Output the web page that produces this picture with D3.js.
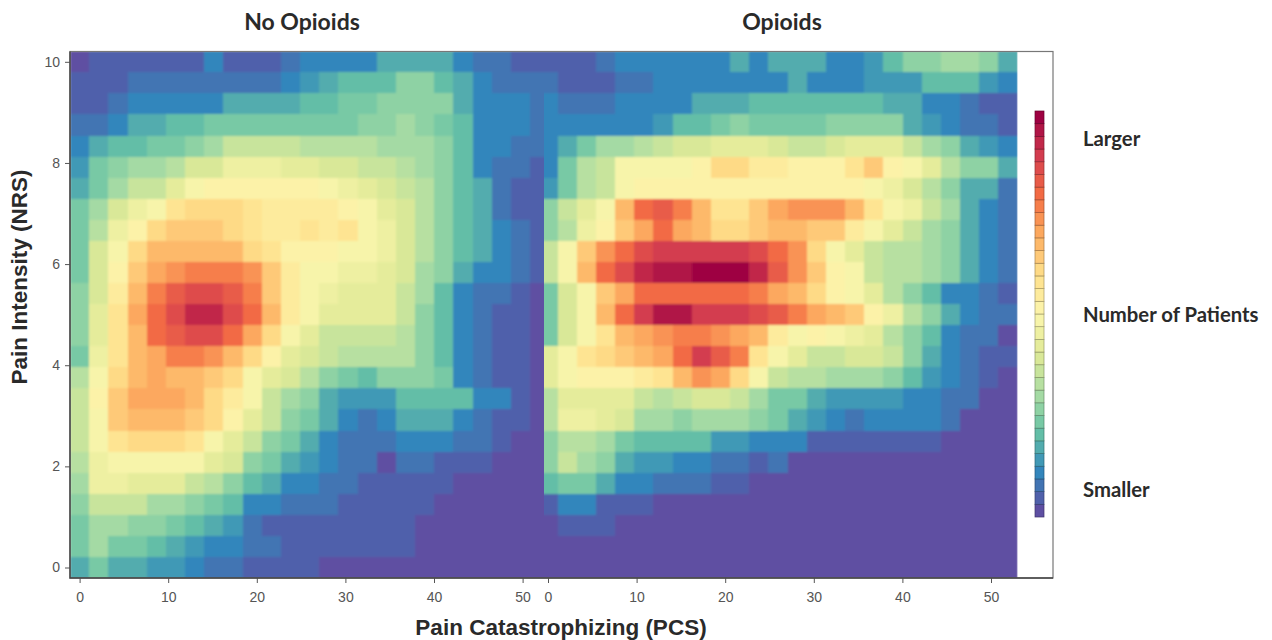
<!DOCTYPE html>
<html>
<head>
<meta charset="utf-8">
<script src="https://cdn.jsdelivr.net/npm/d3@7"></script>
<style>
  html, body { margin: 0; padding: 0; background: #fff; }
  svg { display: block; }
  .tick text { font-family: "Liberation Sans", Arial, sans-serif; font-size: 14px; fill: #555; }
  .tick line { stroke: #555; }
  .domain { display: none; }
  .axis-title { font-family: "Liberation Sans", Arial, sans-serif; font-weight: bold; font-size: 22.5px; fill: #2a2a2a; }
  .panel-title { font-family: Lato, "Open Sans", sans-serif; font-weight: bold; font-size: 23px; fill: #2a2a2a; }
  .legend-label { font-family: Lato, "Open Sans", sans-serif; font-weight: bold; font-size: 20.3px; fill: #2a2a2a; }
</style>
</head>
<body>
<svg width="1272" height="640"></svg>
<script>
// colour level of each cell (0 = smallest, 31 = largest), rows from NRS 10 down to NRS 0
const noOpioids = [
  [0,1,1,1,1,1,1,3,1,1,1,2,3,3,3,3,5,5,5,5,3,2,2,1,1],
  [1,1,1,2,2,2,2,2,2,2,2,3,4,5,6,6,6,8,8,6,5,3,2,2,2],
  [1,1,2,3,3,3,3,3,5,5,5,5,6,6,7,7,8,8,8,8,5,3,3,3,2],
  [2,2,3,5,5,6,6,7,7,7,7,7,7,7,7,8,8,9,8,7,6,3,3,3,2],
  [3,5,6,6,7,7,8,9,11,11,11,11,10,10,10,10,9,9,9,8,6,3,3,2,2],
  [4,7,8,9,9,10,12,12,14,14,14,13,13,12,12,11,11,10,9,8,6,3,2,2,1],
  [5,7,9,11,11,13,15,16,16,16,16,16,16,15,14,13,12,11,10,8,6,5,2,1,1],
  [7,9,12,14,15,18,19,19,19,18,17,17,17,17,16,15,13,12,10,8,6,5,2,1,1],
  [7,10,14,16,19,20,20,20,19,18,17,17,18,17,18,15,14,12,10,8,6,5,3,2,1],
  [7,12,15,19,21,21,21,21,21,19,18,16,16,16,15,15,14,12,10,8,6,5,3,2,1],
  [7,12,16,20,22,23,24,24,24,23,20,17,15,15,14,14,13,12,9,8,5,3,3,2,1],
  [8,12,17,21,24,26,27,27,26,24,20,17,15,14,13,13,13,11,9,6,3,2,2,1,0],
  [8,13,18,22,25,27,29,29,27,25,21,17,15,13,13,13,13,11,8,6,3,2,1,1,0],
  [8,13,18,21,25,26,27,27,25,22,19,15,13,11,11,11,11,10,8,6,3,2,1,1,0],
  [7,14,18,21,22,24,24,23,21,19,16,13,12,11,10,10,10,10,8,6,3,2,1,1,0],
  [10,15,19,21,22,21,21,20,19,15,13,12,10,8,7,6,8,8,8,7,3,2,1,1,0],
  [11,16,20,22,22,22,21,19,17,15,11,9,8,5,4,4,4,6,6,6,6,3,3,1,0],
  [11,15,20,21,21,21,20,19,16,13,11,8,7,5,3,2,3,5,5,5,3,2,1,1,0],
  [11,15,18,19,19,19,18,15,13,11,8,7,5,3,2,2,2,3,3,3,2,2,1,0,0],
  [10,14,15,15,15,15,15,13,12,8,7,5,4,3,2,2,0,2,2,1,1,1,0,0,0],
  [9,14,14,13,13,13,11,10,8,6,5,3,3,2,2,1,1,1,1,1,0,0,0,0,0],
  [8,11,11,11,9,9,8,7,6,3,3,2,2,2,1,1,1,1,1,0,0,0,0,0,0],
  [7,9,9,8,8,7,6,5,4,2,1,1,1,1,1,1,1,1,0,0,0,0,0,0,0],
  [7,9,7,7,6,5,4,3,3,2,2,1,1,1,1,1,1,1,0,0,0,0,0,0,0],
  [5,7,5,5,4,4,3,2,2,1,1,1,1,0,0,0,0,0,0,0,0,0,0,0,0]
];
const opioids = [
  [1,1,1,2,3,3,3,3,3,3,5,3,5,5,5,3,3,4,6,8,8,9,9,8,5],
  [2,1,1,1,2,2,3,3,3,3,3,3,3,5,3,3,3,4,4,4,6,6,6,4,3],
  [3,2,2,2,3,3,3,3,5,5,5,6,6,6,6,6,6,6,5,5,3,3,2,1,1],
  [3,3,3,3,3,3,4,6,6,7,8,7,7,7,7,8,8,8,8,5,4,3,2,2,1],
  [3,5,7,9,9,10,11,12,12,13,13,13,12,11,11,12,13,13,13,11,9,8,5,4,3],
  [3,7,10,11,15,15,15,15,16,19,19,17,17,16,16,16,18,20,16,15,13,10,8,8,5],
  [4,7,10,11,15,16,16,16,16,16,16,16,16,16,16,16,16,15,14,12,10,8,5,5,2],
  [8,11,13,15,21,25,26,24,21,18,18,20,22,23,23,23,21,18,15,14,11,9,5,3,2],
  [8,10,14,16,20,22,25,22,21,19,19,20,21,21,20,20,17,15,13,11,9,8,5,3,2],
  [11,15,20,23,25,27,28,28,28,28,28,27,25,23,19,15,13,11,10,10,9,8,5,3,2],
  [11,15,21,25,27,29,30,30,31,31,31,29,26,23,20,16,15,11,10,10,9,8,5,3,2],
  [7,12,15,20,22,25,25,25,25,25,25,24,22,21,19,16,15,13,10,8,6,3,3,2,1],
  [7,12,15,21,25,28,30,30,28,28,28,27,26,24,22,21,20,16,14,10,8,5,3,2,2],
  [7,12,15,18,21,22,23,24,24,23,22,21,17,15,16,15,14,13,10,8,6,3,2,2,0],
  [13,15,18,19,20,21,22,25,28,26,24,18,15,13,11,11,12,12,11,8,5,3,2,1,1],
  [13,15,16,16,16,17,18,21,23,22,19,15,11,10,10,9,9,9,8,6,4,3,2,1,0],
  [10,13,13,13,13,11,10,11,12,12,11,9,7,7,5,4,4,4,4,3,3,2,2,0,0],
  [10,14,14,13,12,9,9,8,9,9,9,8,7,5,4,3,2,3,3,3,3,2,0,0,0],
  [8,10,10,9,7,6,6,6,6,4,4,3,3,3,1,1,1,1,1,1,1,0,0,0,0],
  [8,11,9,8,5,4,4,3,3,2,2,1,2,0,0,0,0,0,0,0,0,0,0,0,0],
  [6,7,7,5,3,3,2,2,2,1,1,0,0,0,0,0,0,0,0,0,0,0,0,0,0],
  [1,3,3,1,1,1,0,0,0,0,0,0,0,0,0,0,0,0,0,0,0,0,0,0,0],
  [0,1,1,1,0,0,0,0,0,0,0,0,0,0,0,0,0,0,0,0,0,0,0,0,0],
  [0,0,0,0,0,0,0,0,0,0,0,0,0,0,0,0,0,0,0,0,0,0,0,0,0],
  [0,0,0,0,0,0,0,0,0,0,0,0,0,0,0,0,0,0,0,0,0,0,0,0,0]
];
const pcsTicks = [0, 10, 20, 30, 40, 50];
const nrsTicks = [0, 2, 4, 6, 8, 10];
const panelTitles = ["No Opioids", "Opioids"];
const legendLabels = ["Larger", "Number of Patients", "Smaller"];
const levels = d3.range(32);
// spectral map, lime and yellow a bit duller as they come out in the picture
const spectralStops = ["#5e4fa2", "#3288bd", "#66c2a5", "#abdda4", "#e0ea96", "#fcf6ae", "#fee08b", "#fdae61", "#f46d43", "#d53e4f", "#9e0142"];

const PCS_STEP = 53 / 24.5;   // width of one PCS bin
const NRS_STEP = 10 / 24;     // height of one NRS bin

let svg = d3.select("svg");

let color = d3.scaleSequential(d3.piecewise(d3.interpolateRgb, spectralStops)).domain([0, 31]);
let y = d3.scaleLinear().domain([0, 10]).range([567.5, 61.8]);

// same pcs axis twice, each panel has its own offset and both meet at x=544
let panels = [
  { name: "no-opioids", data: noOpioids, x: d3.scaleLinear().domain([0, 50]).range([79.6, 522.6]), clip: [70, 544], titleX: 302 },
  { name: "opioids", data: opioids, x: d3.scaleLinear().domain([0, 50]).range([548, 991]), clip: [544, 1017.5], titleX: 782 }
];

let defs = svg.append("defs");
defs.append("filter").attr("id", "soft")
  .attr("x", 0).attr("y", 0).attr("width", 1).attr("height", 1)
  .append("feGaussianBlur").attr("stdDeviation", 0.9);

let frame = { left: 70, right: 1053, top: 51.5, bottom: 578 };

panels.forEach(function(p, pi) {
  defs.append("clipPath").attr("id", "clip-" + p.name)
    .append("rect")
    .attr("x", p.clip[0]).attr("y", frame.top)
    .attr("width", p.clip[1] - p.clip[0]).attr("height", frame.bottom - frame.top);

  let cellW = p.x(PCS_STEP) - p.x(0);
  let cellH = y(0) - y(NRS_STEP);

  let cells = [];
  p.data.forEach(function(row, r) {
    row.forEach(function(v, c) {
      cells.push({ pcs: c * PCS_STEP, nrs: (24 - r) * NRS_STEP, v: v });
    });
  });

  svg.append("g")
    .attr("clip-path", "url(#clip-" + p.name + ")")
    .append("g")
    .attr("filter", "url(#soft)")
    .selectAll("rect")
    .data(cells)
    .enter()
    .append("rect")
    .attr("x", d => p.x(d.pcs) - cellW / 2)
    .attr("y", d => y(d.nrs) - cellH / 2)
    .attr("width", cellW + 0.5)
    .attr("height", cellH + 0.5)
    .attr("shape-rendering", "crispEdges")
    .attr("fill", d => color(d.v));

  svg.append("g")
    .attr("transform", "translate(0," + frame.bottom + ")")
    .call(d3.axisBottom(p.x).tickValues(pcsTicks).tickSize(5).tickPadding(9));

  svg.append("text")
    .attr("class", "panel-title")
    .attr("x", p.titleX).attr("y", 30)
    .attr("text-anchor", "middle")
    .text(panelTitles[pi]);
});

svg.append("g")
  .attr("transform", "translate(" + frame.left + ",0)")
  .call(d3.axisLeft(y).tickValues(nrsTicks).tickSize(5).tickPadding(5));

// frame, darker on left and bottom as in the picture
svg.append("rect")
  .attr("x", frame.left).attr("y", frame.top)
  .attr("width", frame.right - frame.left).attr("height", frame.bottom - frame.top)
  .attr("fill", "none").attr("stroke", "#777").attr("stroke-width", 1.2);
svg.append("path")
  .attr("d", d3.line()([[frame.left, frame.top], [frame.left, frame.bottom], [frame.right, frame.bottom]]))
  .attr("fill", "none").attr("stroke", "#444").attr("stroke-width", 1.4);

// axis titles
svg.append("text")
  .attr("class", "axis-title")
  .attr("transform", "translate(27,277) rotate(-90)")
  .attr("text-anchor", "middle")
  .text("Pain Intensity (NRS)");
svg.append("text")
  .attr("class", "axis-title")
  .attr("x", 561).attr("y", 635)
  .attr("text-anchor", "middle")
  .text("Pain Catastrophizing (PCS)");

// colour bar
let barY = d3.scaleBand().domain(levels.slice().reverse()).range([111, 517]);
svg.append("g")
  .selectAll("rect")
  .data(levels)
  .enter()
  .append("rect")
  .attr("x", 1035)
  .attr("y", d => barY(d))
  .attr("width", 9)
  .attr("height", barY.bandwidth())
  .attr("fill", d => color(d))
  .attr("stroke", d => d3.color(color(d)).darker(1.2))
  .attr("stroke-width", 0.7);

let legendY = d3.scalePoint().domain(legendLabels).range([139, 490]);
svg.append("g")
  .selectAll("text")
  .data(legendLabels)
  .enter()
  .append("text")
  .attr("class", "legend-label")
  .attr("x", 1083)
  .attr("y", d => legendY(d))
  .attr("dy", "0.35em")
  .text(d => d);
</script>
</body>
</html>
